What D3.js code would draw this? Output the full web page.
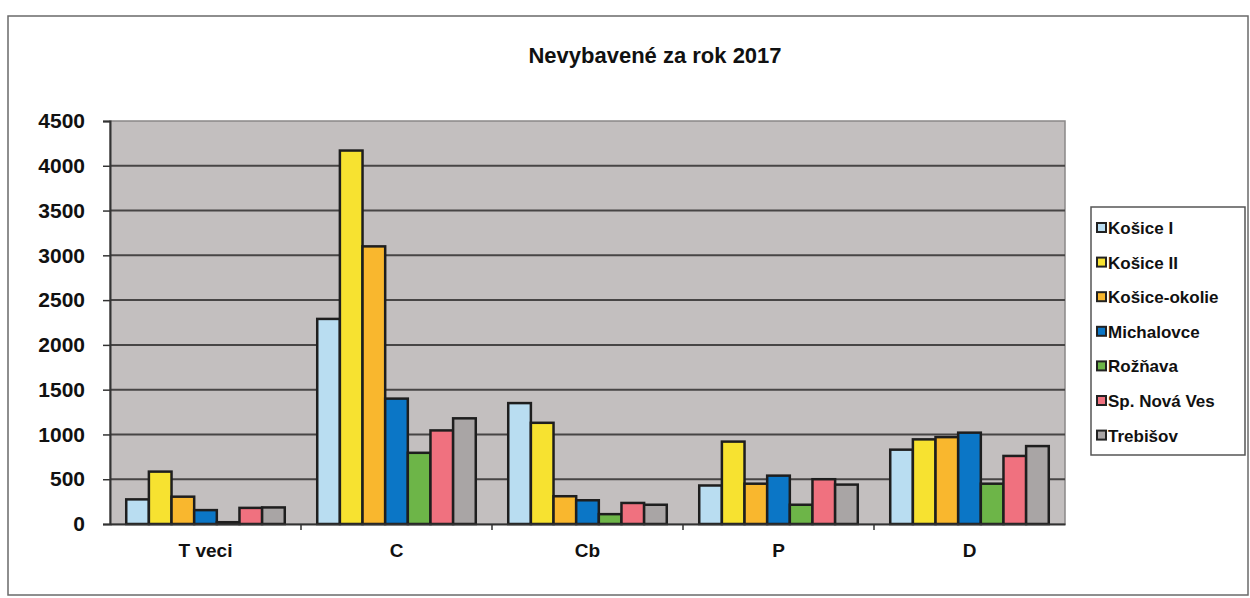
<!DOCTYPE html>
<html><head><meta charset="utf-8">
<script src="https://cdn.jsdelivr.net/npm/d3@7"></script>
<style>
html,body{margin:0;padding:0;background:#fff;}
svg{display:block;}
text{font-family:"Liberation Sans",Arial,sans-serif;font-weight:bold;fill:#111;}
</style></head>
<body><svg id="c" width="1250" height="598"></svg>
<script>
const categories = ["T veci","C","Cb","P","D"];
const seriesNames = ["Košice I","Košice II","Košice-okolie","Michalovce","Rožňava","Sp. Nová Ves","Trebišov"];
const kosice1   = [275, 2290, 1350, 430, 830];
const kosice2   = [585, 4170, 1130, 920, 945];
const okolie    = [305, 3100, 310, 450, 970];
const michalovce= [155, 1400, 265, 540, 1020];
const roznava   = [20, 795, 110, 215, 450];
const spnv      = [180, 1045, 235, 500, 760];
const trebisov  = [185, 1180, 215, 440, 870];
const yTicks = [0,500,1000,1500,2000,2500,3000,3500,4000,4500];
const colors = ["#b9ddf1","#f7e230","#f9b72e","#0b76c6","#6db548","#f0717f","#a9a5a5"];
const title = "Nevybavené za rok 2017";

const values = [kosice1,kosice2,okolie,michalovce,roznava,spnv,trebisov];
const data = categories.map((c,i)=>({cat:c, vals: seriesNames.map((s,j)=>({s, v: values[j][i], j}))}));

const svg = d3.select("#c");
const L=110, R=1065, T=121, B=524;

// outer chart border
svg.append("rect").attr("x",8).attr("y",16).attr("width",1240).attr("height",579)
  .attr("fill","#fff").attr("stroke","#6a6a6a").attr("stroke-width",1.5);

svg.append("text").attr("x",655).attr("y",63).attr("text-anchor","middle")
  .style("font-size","22px").text(title);

const x0 = d3.scaleBand().domain(categories).range([L,R]).padding(0);
const pad = x0.bandwidth()*0.085;
const x1 = d3.scaleBand().domain(seriesNames).range([pad, x0.bandwidth()-pad]).padding(0);
const y = d3.scaleLinear().domain([0,4500]).range([B,T]);

// plot area
svg.append("rect").attr("x",L).attr("y",T).attr("width",R-L).attr("height",B-T)
  .attr("fill","#c3bfbf").attr("stroke","#8a8888").attr("stroke-width",1.5);

// gridlines
svg.append("g").selectAll("line").data(yTicks.filter(d=>d>0 && d<4500)).join("line")
  .attr("x1",L).attr("x2",R).attr("y1",d=>y(d)).attr("y2",d=>y(d))
  .attr("stroke","#474545").attr("stroke-width",2);

// bars
const g = svg.append("g").selectAll("g").data(data).join("g")
  .attr("transform",d=>`translate(${x0(d.cat)},0)`);
g.selectAll("rect").data(d=>d.vals).join("rect")
  .attr("x",d=>x1(d.s)).attr("width",x1.bandwidth())
  .attr("y",d=>y(d.v)).attr("height",d=>B-y(d.v))
  .attr("fill",d=>colors[d.j]).attr("stroke","#1e1e1e").attr("stroke-width",2.5);

// y axis
const ya = svg.append("g").attr("transform",`translate(${L},0)`)
  .call(d3.axisLeft(y).tickValues(yTicks).tickFormat(d3.format("d")).tickSize(7).tickPadding(18));
ya.select(".domain").attr("stroke","#333").attr("stroke-width",2);
ya.selectAll(".tick line").attr("stroke","#333").attr("stroke-width",1.5);
ya.selectAll("text").style("font-size","21px").style("font-family","'Liberation Sans',Arial,sans-serif").attr("fill","#111");

// x axis
const xa = svg.append("g").attr("transform",`translate(0,${B})`)
  .call(d3.axisBottom(x0).tickSize(0).tickPadding(20));
xa.select(".domain").attr("stroke","#333").attr("stroke-width",2);
xa.selectAll("text").style("font-size","19px").style("font-family","'Liberation Sans',Arial,sans-serif").attr("fill","#111");
// category boundary ticks
svg.append("g").selectAll("line").data(categories.slice(1)).join("line")
  .attr("x1",d=>x0(d)).attr("x2",d=>x0(d)).attr("y1",B).attr("y2",B+6)
  .attr("stroke","#333").attr("stroke-width",1.5);

// legend
const lg = svg.append("g");
lg.append("rect").attr("x",1091).attr("y",207).attr("width",154).attr("height",248)
  .attr("fill","#fff").attr("stroke","#555").attr("stroke-width",1.5);
const li = lg.selectAll("g").data(seriesNames).join("g")
  .attr("transform",(d,i)=>`translate(1097,${228+i*34.6})`);
li.append("rect").attr("x",0).attr("y",-5).attr("width",9).attr("height",9)
  .attr("fill",(d,i)=>colors[i]).attr("stroke","#222").attr("stroke-width",2);
li.append("text").attr("x",11).attr("y",6).style("font-size","17px").text(d=>d);
</script></body></html>
